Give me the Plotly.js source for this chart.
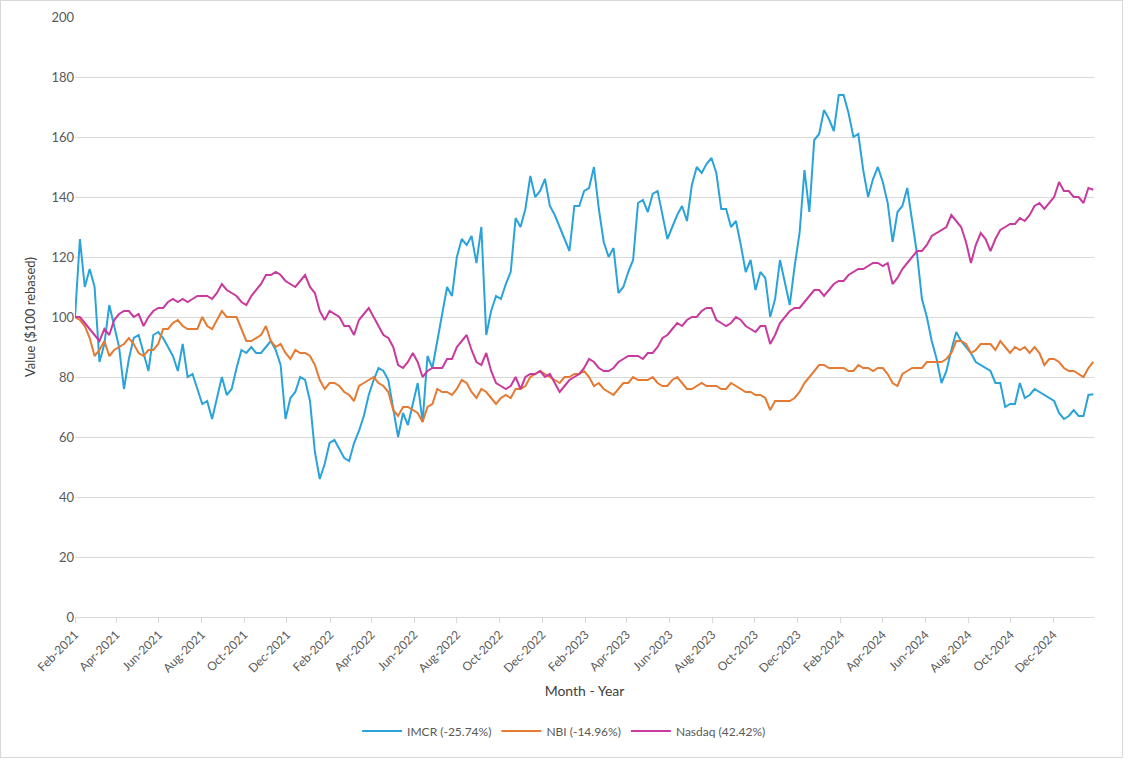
<!DOCTYPE html>
<html>
<head>
<meta charset="utf-8">
<script src="https://cdn.plot.ly/plotly-3.0.1.min.js"></script>
<style>
  html, body { margin: 0; padding: 0; background: #ffffff; }
  #wrap { position: relative; width: 1130px; height: 764px; }
  #chart { position: absolute; left: 0; top: 0; width: 1130px; height: 764px; }
  #frame { position: absolute; left: 0; top: 0; width: 1121px; height: 756px; border: 1px solid #d9d9d9; pointer-events: none; }
</style>
</head>
<body>
<div id="wrap"><div id="chart"></div><div id="frame"></div></div>
<script>
// Weekly observations starting 2021-02-01 (value of $100 invested, rebased)
const startDate = '2021-02-01';
const stepDays = 7;

const imcr = [100,126,110,116,110,85,91,104,97,90,76,86,93,94,88,82,94,95,93,90,87,82,91,80,
81,76,71,72,66,73,80,74,76,83,89,88,90,88,88,90,92,89,84,66,73,75,80,79,72,55,46,
51,58,59,56,53,52,58,62,67,74,79,83,82,79,70,60,68,64,71,78,65,87,83,92,101,110,107,
120,126,124,127,118,130,94,102,107,106,111,115,133,130,136,147,140,142,146,137,134,130,126,122,137,137,
142,143,150,136,125,120,123,108,110,115,119,138,139,135,141,142,134,126,130,134,137,132,144,150,148,151,153,
148,136,136,130,132,124,115,119,109,115,113,100,106,119,112,104,117,128,149,135,159,161,169,166,162,174,
174,168,160,161,149,140,146,150,145,138,125,135,137,143,132,121,106,100,92,86,78,82,89,95,92,90,88,
85,84,83,82,78,78,70,71,71,78,73,74,76,75,74,73,72,68,66,67,69,67,67,74,74.26];

const nbi = [100,99,97,93,87,89,92,87,89,90,91,93,91,88,87,89,89,91,96,96,98,99,97,96,
96,96,100,97,96,99,102,100,100,100,96,92,92,93,94,97,92,90,91,88,86,89,88,88,87,84,79,
76,78,78,77,75,74,72,77,78,79,80,78,77,75,69,67,70,70,69,68,65,70,71,76,75,75,74,
76,79,78,75,73,76,75,73,71,73,74,73,76,76,77,80,81,82,81,80,79,78,80,80,81,81,
82,80,77,78,76,75,74,76,78,78,80,79,79,79,80,78,77,77,79,80,78,76,76,77,78,77,77,
77,76,76,78,77,76,75,75,74,74,73,69,72,72,72,72,73,75,78,80,82,84,84,83,83,83,
83,82,82,84,83,83,82,83,83,81,78,77,81,82,83,83,83,85,85,85,85,86,88,92,92,91,88,
89,91,91,91,89,92,90,88,90,89,90,88,90,88,84,86,86,85,83,82,82,81,80,83,85.04];

const nasdaq = [100,100,98,96,94,92,96,94,99,101,102,102,100,101,97,100,102,103,103,105,106,105,106,105,
106,107,107,107,106,108,111,109,108,107,105,104,107,109,111,114,114,115,114,112,111,110,112,114,110,108,102,
99,102,101,100,97,97,94,99,101,103,100,97,94,93,90,84,83,85,88,85,80,82,83,83,83,86,86,
90,92,94,89,85,84,88,82,78,77,76,77,80,76,80,81,81,82,80,81,78,75,77,79,80,81,
83,86,85,83,82,82,83,85,86,87,87,87,86,88,88,90,93,94,96,98,97,99,100,100,102,103,103,
99,98,97,98,100,99,97,96,95,97,97,91,94,98,100,102,103,103,105,107,109,109,107,109,111,112,
112,114,115,116,116,117,118,118,117,118,111,113,116,118,120,122,122,124,127,128,129,130,134,132,130,125,118,
124,128,126,122,126,129,130,131,131,133,132,134,137,138,136,138,140,145,142,142,140,140,138,143,142.42];

const seriesNames = ['IMCR (-25.74%)', 'NBI (-14.96%)', 'Nasdaq (42.42%)'];
const seriesColors = ['#2AA3DA', '#E57A33', '#C93A9E'];

// build the weekly date list (category axis)
const dates = [];
const t0 = Date.parse(startDate + 'T00:00:00Z');
for (let i = 0; i < imcr.length; i++) {
  dates.push(new Date(t0 + i * stepDays * 86400000).toISOString().slice(0, 10));
}

const traces = [imcr, nbi, nasdaq].map((vals, k) => ({
  x: dates, y: vals, type: 'scatter', mode: 'lines', name: seriesNames[k],
  line: { color: seriesColors[k], width: 2 }, hoverinfo: 'skip'
}));

const fontFam = 'Lato, "Open Sans", "Liberation Sans", sans-serif';
const layout = {
  width: 1130, height: 764,
  margin: { l: 75, r: 36, t: 17, b: 147 },
  paper_bgcolor: '#ffffff', plot_bgcolor: '#ffffff',
  font: { family: fontFam, size: 12, color: '#595959' },
  showlegend: true,
  legend: { orientation: 'h', x: 0.48, xanchor: 'center', y: -0.19, yanchor: 'middle',
            font: { size: 12, color: '#595959' }, itemwidth: 40, tracegroupgap: 0 },
  xaxis: {
    type: 'date', range: ['2021-02-01', '2025-01-28'],
    tick0: '2021-02-01', dtick: 'M2', tickformat: '%b-%Y', tickangle: -45,
    showgrid: false, showline: true, linecolor: '#d9d9d9', linewidth: 1,
    ticks: 'outside', ticklen: 5, tickcolor: '#d9d9d9',
    tickfont: { size: 12, color: '#595959' },
    title: { text: 'Month - Year', font: { size: 14, color: '#404040' }, standoff: 11 },
    automargin: false, zeroline: false
  },
  yaxis: {
    range: [0, 200], dtick: 20, tick0: 0,
    showgrid: true, gridcolor: '#d9d9d9', gridwidth: 1,
    showline: false, zeroline: false, ticks: '',
    tickfont: { size: 13, color: '#595959' },
    title: { text: 'Value ($100 rebased)', font: { size: 13, color: '#404040' }, standoff: 12 },
    automargin: false
  }
};

Plotly.newPlot('chart', traces, layout, { displayModeBar: false, staticPlot: true });
</script>
</body>
</html>
